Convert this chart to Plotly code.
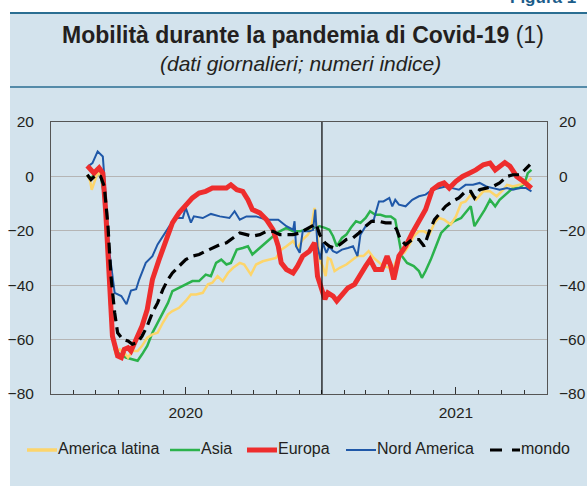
import plotly.graph_objects as go

# ---------------- data ----------------
na_dates = ["2020-02-20","2020-02-26","2020-03-04","2020-03-11","2020-03-14","2020-03-20","2020-03-27",
            "2020-04-05","2020-04-12","2020-04-18","2020-04-25","2020-04-29","2020-05-08","2020-05-17",
            "2020-05-24","2020-05-31","2020-06-09","2020-06-18","2020-06-27","2020-07-01","2020-07-08",
            "2020-07-12","2020-07-24","2020-08-04","2020-08-16","2020-08-29","2020-09-05","2020-09-12",
            "2020-09-21","2020-10-04","2020-10-18","2020-11-03","2020-11-14","2020-11-23","2020-11-25",
            "2020-11-27","2020-12-02","2020-12-06","2020-12-15","2020-12-20","2020-12-23","2020-12-26",
            "2020-12-30","2021-01-02","2021-01-07","2021-01-11","2021-01-16","2021-01-21","2021-01-28",
            "2021-02-05","2021-02-12","2021-02-18","2021-02-22","2021-03-01","2021-03-12","2021-03-19",
            "2021-03-25","2021-04-02","2021-04-06","2021-04-10","2021-04-15","2021-04-24","2021-05-03",
            "2021-05-12","2021-05-21","2021-05-30","2021-06-08","2021-06-17","2021-06-26","2021-07-05",
            "2021-07-14","2021-07-24","2021-08-02","2021-08-11","2021-08-20","2021-08-29","2021-09-08",
            "2021-09-16","2021-09-25","2021-10-04","2021-10-11"]
na_vals = [3.7,4.9,9.2,7.3,-3.7,-28,-42.8,-44,-47,-42,-41.5,-38,-31.8,-29.3,-25,-22,-18.3,-15.3,-15.3,
           -11.6,-17,-14.7,-15.3,-13.8,-14.7,-15.3,-12.8,-15.9,-14.7,-14.7,-15.9,-15.9,-18.3,-19.6,-16.5,
           -25.7,-28.1,-20.2,-20.2,-19.6,-12.2,-25.7,-30.6,-24.4,-28.1,-25.7,-27.5,-28.1,-26.9,-26.3,-25.7,
           -29.3,-21.4,-18.3,-15.9,-9.2,-9.2,-7.9,-11,-8.6,-10.4,-11,-8.6,-7.3,-6.7,-4.9,-4.3,-3.7,-4.3,
           -4.9,-3.1,-3.1,-2.4,-3.7,-4.3,-4.9,-4.3,-4.9,-4.3,-4.3,-5.5]

eu_dates = ["2020-02-19","2020-02-24","2020-02-28","2020-03-06","2020-03-11","2020-03-15","2020-03-20",
            "2020-03-24","2020-03-31","2020-04-05","2020-04-09","2020-04-14","2020-04-18","2020-04-25",
            "2020-04-29","2020-05-03","2020-05-10","2020-05-17","2020-05-26","2020-06-05","2020-06-13",
            "2020-06-22","2020-07-01","2020-07-10","2020-07-19","2020-07-28","2020-08-06","2020-08-16",
            "2020-08-25","2020-08-31","2020-09-08","2020-09-16","2020-09-23","2020-09-29","2020-10-09",
            "2020-10-18","2020-10-27","2020-11-03","2020-11-07","2020-11-14","2020-11-23","2020-11-29",
            "2020-12-06","2020-12-15","2020-12-22","2020-12-26","2020-12-31","2021-01-05","2021-01-09",
            "2021-01-16","2021-01-21","2021-01-28","2021-02-05","2021-02-14","2021-02-20","2021-03-01",
            "2021-03-07","2021-03-14","2021-03-23","2021-03-30","2021-04-04","2021-04-08","2021-04-15",
            "2021-04-24","2021-05-03","2021-05-12","2021-05-21","2021-05-30","2021-06-08","2021-06-15",
            "2021-06-22","2021-07-01","2021-07-10","2021-07-19","2021-07-28","2021-08-07","2021-08-16",
            "2021-08-23","2021-08-29","2021-09-05","2021-09-12","2021-09-21","2021-09-30","2021-10-11"]
eu_vals = [3.9,2.4,1.2,3.1,1.2,-13.4,-40.3,-58.7,-66,-66.6,-63.6,-63,-64.2,-59.9,-56.8,-55,-48.9,-37.9,
           -30.6,-23.2,-17.1,-13.4,-10.4,-7.9,-6.1,-5.5,-4.3,-4.3,-4.3,-3.1,-4.9,-5.5,-8.6,-12.2,-13.4,
           -15.9,-19.6,-25.7,-31.8,-34.2,-35.5,-33,-29.3,-27.5,-24.4,-36.7,-40.3,-45.2,-42.8,-44,-45.8,
           -43.4,-41,-39.7,-36.7,-33,-30.6,-34.2,-34.2,-29.3,-33,-37.9,-29.3,-25.7,-20.8,-16.5,-12.2,-4.9,
           -3.1,-2.4,-4.3,-1.8,0,1.2,2.4,4.3,4.9,2.4,3.7,5.1,3.7,0,-1.8,-4.3]

as_dates = ["2020-02-19","2020-02-24","2020-03-02","2020-03-08","2020-03-13","2020-03-18","2020-03-22",
            "2020-03-27","2020-04-03","2020-04-11","2020-04-20","2020-04-27","2020-05-03","2020-05-10",
            "2020-05-17","2020-05-24","2020-05-31","2020-06-07","2020-06-13","2020-06-22","2020-07-01",
            "2020-07-10","2020-07-19","2020-07-28","2020-08-04","2020-08-11","2020-08-18","2020-08-25",
            "2020-08-31","2020-09-08","2020-09-16","2020-09-23","2020-09-29","2020-10-09","2020-10-18",
            "2020-10-27","2020-11-05","2020-11-14","2020-11-23","2020-12-02","2020-12-10","2020-12-20",
            "2020-12-29","2021-01-05","2021-01-11","2021-01-16","2021-01-21","2021-01-28","2021-02-03",
            "2021-02-09","2021-02-16","2021-02-22","2021-03-01","2021-03-07","2021-03-14","2021-03-21",
            "2021-03-28","2021-04-04","2021-04-10","2021-04-15","2021-04-19","2021-04-26","2021-05-05",
            "2021-05-12","2021-05-16","2021-05-21","2021-05-28","2021-06-04","2021-06-11","2021-06-20",
            "2021-06-28","2021-07-08","2021-07-14","2021-07-21","2021-07-26","2021-08-02","2021-08-09",
            "2021-08-16","2021-08-23","2021-08-29","2021-09-08","2021-09-16","2021-09-25","2021-10-02",
            "2021-10-06","2021-10-11"]
as_vals = [0.2,-0.6,1.2,0.6,-7.3,-30.6,-52.6,-63.6,-65.4,-66.6,-67.2,-67.8,-65.4,-62.3,-57.5,-53.8,-50.1,
           -46.5,-42.2,-41,-39.7,-38.5,-38.5,-36.1,-36.7,-31.8,-30.6,-32.4,-31.8,-26.9,-26.3,-25.7,-28.7,
           -26.3,-24.4,-22,-20.2,-18.9,-20.2,-20.2,-19.6,-18.9,-18.3,-18.9,-19.6,-22,-25.7,-22.6,-21.4,
           -18.9,-16.5,-17.1,-15.3,-12.8,-14.1,-14.1,-14.7,-14.7,-15.9,-23.2,-29.3,-31.8,-33,-34.8,-37.3,
           -34.8,-30.6,-25.7,-20.8,-18.3,-16.5,-15.3,-13.4,-11,-18.3,-15.3,-12.2,-8.6,-11,-8.6,-6.1,-4.3,
           -4.3,-2.4,1.2,2.4]

la_dates = ["2020-02-19","2020-02-23","2020-02-25","2020-02-28","2020-03-03","2020-03-06","2020-03-11",
            "2020-03-15","2020-03-20","2020-03-24","2020-03-28","2020-04-03","2020-04-09","2020-04-14",
            "2020-04-20","2020-04-27","2020-05-03","2020-05-10","2020-05-17","2020-05-24","2020-05-31",
            "2020-06-07","2020-06-13","2020-06-22","2020-07-01","2020-07-08","2020-07-15","2020-07-24",
            "2020-07-31","2020-08-06","2020-08-13","2020-08-20","2020-08-27","2020-09-03","2020-09-12",
            "2020-09-18","2020-09-27","2020-10-04","2020-10-13","2020-10-22","2020-10-31","2020-11-07",
            "2020-11-14","2020-11-23","2020-11-29","2020-12-06","2020-12-13","2020-12-17","2020-12-22",
            "2020-12-25","2020-12-29","2021-01-02","2021-01-06","2021-01-09","2021-01-13","2021-01-18",
            "2021-01-25","2021-02-03","2021-02-12","2021-02-18","2021-02-26","2021-03-05","2021-03-12",
            "2021-03-19","2021-03-25","2021-04-02","2021-04-06","2021-04-10","2021-04-15","2021-04-22",
            "2021-04-28","2021-05-05","2021-05-12","2021-05-19","2021-05-26","2021-06-02","2021-06-08",
            "2021-06-15","2021-06-24","2021-07-01","2021-07-08","2021-07-14","2021-07-21","2021-07-28",
            "2021-08-07","2021-08-16","2021-08-25","2021-09-03","2021-09-08","2021-09-16","2021-09-25",
            "2021-10-04","2021-10-11"]
la_vals = [0.6,-1.8,-4.9,-2.4,0.6,1.2,-0.6,-15.9,-40.3,-58.7,-64.8,-63.6,-64.8,-66.6,-64.2,-64.2,-62.3,
           -59.3,-58.1,-57.5,-53.8,-50.7,-49.5,-48.3,-45.8,-43.4,-43.4,-42.8,-39.7,-39.1,-36.7,-38.5,-35.5,
           -33.6,-31.8,-32.4,-36.1,-32.4,-31.2,-30.6,-30,-26.9,-25.7,-23.8,-26.3,-23.2,-21.4,-19.6,-11.6,
           -19.6,-30.6,-33,-36.7,-30,-30.6,-34.8,-33.6,-32.4,-30.6,-29.3,-29.3,-27.5,-30,-31.8,-33,-33.6,
           -36.7,-31.8,-29.3,-28.1,-25.7,-22,-20.2,-20.2,-21.4,-17.1,-15.3,-15.9,-17.7,-14.7,-9.8,-9.2,
           -6.7,-8.6,-5.5,-5.5,-7.3,-4.9,-3.1,-3.7,-3.1,-2.4,-0.6]

mo_dates = ["2020-02-19","2020-02-24","2020-03-02","2020-03-08","2020-03-13","2020-03-18","2020-03-22",
            "2020-03-27","2020-03-31","2020-04-07","2020-04-14","2020-04-20","2020-04-27","2020-05-03",
            "2020-05-10","2020-05-17","2020-05-24","2020-05-31","2020-06-07","2020-06-13","2020-06-22",
            "2020-07-01","2020-07-10","2020-07-19","2020-07-28","2020-08-06","2020-08-16","2020-08-25",
            "2020-09-03","2020-09-12","2020-09-21","2020-09-29","2020-10-09","2020-10-18","2020-10-27",
            "2020-11-05","2020-11-14","2020-11-23","2020-12-02","2020-12-10","2020-12-17","2020-12-24",
            "2020-12-29","2021-01-05","2021-01-11","2021-01-18","2021-01-25","2021-02-03","2021-02-12",
            "2021-02-20","2021-03-01","2021-03-09","2021-03-19","2021-03-28","2021-04-06","2021-04-12",
            "2021-04-17","2021-04-24","2021-05-03","2021-05-12","2021-05-19","2021-05-26","2021-06-02",
            "2021-06-08","2021-06-17","2021-06-26","2021-07-05","2021-07-14","2021-07-21","2021-07-26",
            "2021-08-02","2021-08-11","2021-08-20","2021-08-29","2021-09-08","2021-09-16","2021-09-25",
            "2021-10-02","2021-10-09"]
mo_vals = [0.6,-1.2,0.6,0,-3.7,-18.3,-36.7,-50.1,-57.5,-59.9,-60.5,-61.7,-61.1,-58.7,-55,-50.1,-46.5,
           -41.6,-37.9,-35.5,-33,-30.6,-29.3,-28.7,-27.5,-26.3,-25.1,-24.4,-22.6,-20.8,-21.4,-22,-21.4,
           -20.2,-20.2,-21.4,-21.4,-21.4,-20.8,-19.6,-18.3,-17.4,-21.4,-24.4,-25.7,-26.3,-25.1,-23.2,-22.6,
           -20.8,-18.3,-16.5,-16.5,-17.1,-17.1,-19.6,-23.2,-25.1,-23.2,-23.2,-25.7,-20.2,-15.9,-14.1,-11,
           -9.2,-7.9,-5.5,-5.5,-7.9,-4.9,-4.3,-3.7,-2.4,0,0.6,0.6,2.4,4.3]

series_names = ["America latina", "Asia", "Europa", "Nord America", "mondo"]
y_ticks = [-80, -60, -40, -20, 0, 20]
x_tick_vals = ["2020-07-01", "2021-07-01"]
x_tick_text = ["2020", "2021"]
x_range = ["2020-01-01", "2021-11-01"]
year_break = "2021-01-01"

TITLE = "<b>Mobilità durante la pandemia di Covid-19</b> (1)"
SUBTITLE = "<i>(dati giornalieri; numeri indice)</i>"
FIG_LABEL = "<b>Figura 1</b>"

# ---------------- layout geometry (pixels) ----------------
W, H = 587, 486
PL, PR, PT, PB = 51, 547, 122, 394
pw, ph = PR - PL, PB - PT
def px(x):
    return (x - PL) / pw
def py(y):
    return (PB - y) / ph

FONT = "Liberation Sans, Arial, sans-serif"
TXT = "#231f20"
PANEL = "#d3e3ed"
TEAL = "#2a6e92"

styles = {
    "America latina": dict(color="#fdd56b", width=2.5),
    "Asia": dict(color="#2bb24c", width=2.5),
    "Europa": dict(color="#ee2d2d", width=5),
    "Nord America": dict(color="#1f58a8", width=2),
    "mondo": dict(color="#000000", width=3.2, dash="11px,6px"),
}
data = {
    "America latina": (la_dates, la_vals),
    "Asia": (as_dates, as_vals),
    "Europa": (eu_dates, eu_vals),
    "Nord America": (na_dates, na_vals),
    "mondo": (mo_dates, mo_vals),
}

fig = go.Figure()
for name in ["Asia", "America latina", "Nord America", "Europa", "mondo"]:
    xs, ys = data[name]
    fig.add_trace(go.Scatter(x=xs, y=ys, mode="lines", name=name, line=styles[name],
                             showlegend=False, hoverinfo="skip"))
# dummy trace so the right-hand axis is drawn
fig.add_trace(go.Scatter(x=[None], y=[None], yaxis="y2", showlegend=False, hoverinfo="skip"))

shapes = [
    dict(type="rect", xref="paper", yref="paper", x0=px(10), x1=px(W + 2), y0=py(H + 2), y1=py(13),
         fillcolor=PANEL, line=dict(width=0), layer="below"),
    dict(type="line", xref="paper", yref="paper", x0=px(10), x1=px(W + 2), y0=py(13), y1=py(13),
         line=dict(color=TEAL, width=2.2), layer="below"),
    dict(type="line", xref="paper", yref="paper", x0=px(10), x1=px(W + 2), y0=py(87), y1=py(87),
         line=dict(color=TEAL, width=1.3), layer="below"),
    dict(type="line", xref="x", yref="paper", x0=year_break, x1=year_break, y0=0, y1=1,
         line=dict(color="#000000", width=1.2)),
]

annotations = [
    dict(text=TITLE, xref="paper", yref="paper", x=px(303), y=py(35.5), xanchor="center", yanchor="middle",
         showarrow=False, font=dict(family=FONT, size=23, color=TXT)),
    dict(text=SUBTITLE, xref="paper", yref="paper", x=px(300), y=py(63.5), xanchor="center", yanchor="middle",
         showarrow=False, font=dict(family=FONT, size=21, color=TXT)),
    dict(text=FIG_LABEL, xref="paper", yref="paper", x=px(508), y=py(9), xanchor="left",
         yanchor="bottom", showarrow=False, font=dict(family=FONT, size=17, color="#1b5d8a")),
]

# hand-placed legend (single row, as in the reference)
LEG_Y = 450
leg_pos = {"America latina": 27, "Asia": 170, "Europa": 247, "Nord America": 346, "mondo": 490}
for name in series_names:
    x0 = leg_pos[name]
    st = dict(styles[name])
    if name == "mondo":
        st["dash"] = "12px,10px"
    if name == "America latina":
        st["width"] = 3.5
    shapes.append(dict(type="line", xref="paper", yref="paper", x0=px(x0), x1=px(x0 + 30),
                       y0=py(LEG_Y), y1=py(LEG_Y), line=st))
    annotations.append(dict(text=name, xref="paper", yref="paper", x=px(x0 + 29), y=py(LEG_Y - 1.5),
                            xanchor="left", yanchor="middle", showarrow=False,
                            font=dict(family=FONT, size=16, color=TXT)))

axis_font = dict(family=FONT, size=15.5, color=TXT)
fig.update_layout(
    width=W, height=H,
    margin=dict(l=PL, r=W - PR, t=PT, b=H - PB, autoexpand=False),
    paper_bgcolor="white", plot_bgcolor="white",
    showlegend=False,
    xaxis=dict(type="date", range=x_range, tickvals=x_tick_vals, ticktext=x_tick_text,
               ticks="inside", ticklen=7, tickcolor="#333", tickwidth=1,
               minor=dict(dtick="M1", tick0="2020-01-01", ticks="inside", ticklen=4,
                          tickcolor="#333", tickwidth=1, showgrid=False),
               showgrid=False, zeroline=False, showline=True, linecolor="#555", linewidth=1,
               mirror=True, tickfont=axis_font, ticklabelstandoff=4),
    yaxis=dict(range=[-80, 20], tickvals=y_ticks, showgrid=True, gridcolor="#b5b5b5", gridwidth=1,
               zeroline=False, showline=True, linecolor="#555", linewidth=1, mirror=True,
               ticks="", tickfont=axis_font, ticklabelstandoff=13),
    yaxis2=dict(range=[-80, 20], tickvals=y_ticks, overlaying="y", side="right", showgrid=False,
                zeroline=False, showline=False, ticks="", tickfont=axis_font, ticklabelstandoff=11),
    shapes=shapes, annotations=annotations,
)

fig.write_html("out.html", config={"displayModeBar": False},
               post_script="document.body.style.margin='0px';")
